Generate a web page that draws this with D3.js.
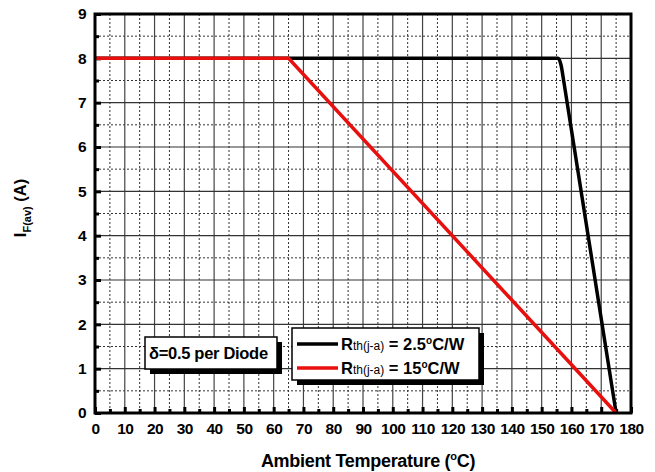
<!DOCTYPE html>
<html><head><meta charset="utf-8">
<script src="https://cdn.jsdelivr.net/npm/d3@7"></script>
<style>body{margin:0;background:#fff}svg{display:block}text{font-family:Arial,"Liberation Sans",sans-serif;font-weight:bold}</style>
</head><body><svg id="c" width="655" height="472"></svg>
<script>
const xTicks = [0,10,20,30,40,50,60,70,80,90,100,110,120,130,140,150,160,170,180];
const yTicks = [0,1,2,3,4,5,6,7,8,9];
const blackT = [0,155.5,156.5,157.5,175];
const blackI = [8,8,7.85,7.45,0];
const redT = [0,65,175];
const redI = [8,8,0];

const svg = d3.select("#c");
const L=95,R=631,T=14,B=413;
const x = d3.scaleLinear().domain([0,180]).range([L,R]);
const y = d3.scaleLinear().domain([0,9]).range([B,T]);
const g = svg.append("g");

// grid
const minorX = d3.range(5,180,10), minorY = d3.range(0.5,9,1);
g.selectAll(".gxm").data(minorX).join("line").attr("x1",d=>x(d)).attr("x2",d=>x(d)).attr("y1",T).attr("y2",B)
 .attr("stroke","#333").attr("stroke-width",1).attr("stroke-dasharray","2,2");
g.selectAll(".gym").data(minorY).join("line").attr("y1",d=>y(d)).attr("y2",d=>y(d)).attr("x1",L).attr("x2",R)
 .attr("stroke","#333").attr("stroke-width",1).attr("stroke-dasharray","2,2");
g.selectAll(".gx").data(xTicks.slice(1,-1)).join("line").attr("x1",d=>x(d)).attr("x2",d=>x(d)).attr("y1",T).attr("y2",B)
 .attr("stroke","#444").attr("stroke-width",1.2);
g.selectAll(".gy").data(yTicks.slice(1,-1)).join("line").attr("y1",d=>y(d)).attr("y2",d=>y(d)).attr("x1",L).attr("x2",R)
 .attr("stroke","#333").attr("stroke-width",1.2);

// axes with inward ticks
const xa = svg.append("g").attr("transform",`translate(0,${B})`)
 .call(d3.axisBottom(x).tickValues(xTicks).tickSize(-6).tickPadding(10).tickFormat(d3.format("d")));
const xm = svg.append("g").attr("transform",`translate(0,${B})`)
 .call(d3.axisBottom(x).tickValues(minorX).tickSize(-4).tickFormat(""));
const ya = svg.append("g").attr("transform",`translate(${L},0)`)
 .call(d3.axisLeft(y).tickValues(yTicks).tickSize(-6).tickPadding(9).tickFormat(d3.format("d")));
const ym = svg.append("g").attr("transform",`translate(${L},0)`)
 .call(d3.axisLeft(y).tickValues(minorY).tickSize(-4).tickFormat(""));
[xa,xm,ya,ym].forEach(a=>{a.select(".domain").remove();a.selectAll("line").attr("stroke","#000").attr("stroke-width",3);
  a.selectAll("text").attr("fill","#000").style("font-size","15.5px").style("font-weight","bold").attr("letter-spacing","-0.5");});

// data lines
const line = d3.line().x(d=>x(d[0])).y(d=>y(d[1]));
svg.append("path").datum(blackT.map((t,i)=>[t,blackI[i]])).attr("d",line.curve(d3.curveMonotoneX))
 .attr("fill","none").attr("stroke","#000").attr("stroke-width",3.5);
svg.append("path").datum(redT.map((t,i)=>[t,redI[i]])).attr("d",d3.line().x(d=>x(d[0])).y(d=>y(d[1])))
 .attr("fill","none").attr("stroke","#e8100f").attr("stroke-width",3.5);

// frame
svg.append("rect").attr("x",L).attr("y",T).attr("width",R-L).attr("height",B-T)
 .attr("fill","none").attr("stroke","#000").attr("stroke-width",3);

// axis titles
svg.append("text").attr("x",368).attr("y",467).attr("text-anchor","middle").style("font-size","18px").attr("letter-spacing","-0.3")
 .html('Ambient Temperature (<tspan dy="-7" font-size="11">o</tspan><tspan dy="7">C)</tspan>');
const yl = svg.append("text").attr("transform","translate(26,208) rotate(-90)").attr("text-anchor","middle").style("font-size","16.5px");
yl.append("tspan").text("I");
yl.append("tspan").attr("dy",5).style("font-size","11px").text("F(av)");
yl.append("tspan").attr("dy",-5).text(" (A)");

// legend boxes with shadow
function box(x0,y0,w,h){
  svg.append("rect").attr("x",x0+5).attr("y",y0+5).attr("width",w).attr("height",h).attr("fill","#000");
  svg.append("rect").attr("x",x0).attr("y",y0).attr("width",w).attr("height",h).attr("fill","#fff").attr("stroke","#000").attr("stroke-width",1.5);
}
box(145,337,132,32);
svg.append("text").attr("x",149).attr("y",359).style("font-size","16.5px").attr("letter-spacing","-0.3").text("δ=0.5 per Diode");
box(292,328,187,52);
const legItems=[{c:"#000",v:"2.5",yy:344},{c:"#e8100f",v:"15",yy:368}];
legItems.forEach(it=>{
  svg.append("line").attr("x1",297).attr("x2",338).attr("y1",it.yy).attr("y2",it.yy).attr("stroke",it.c).attr("stroke-width",3.5);
  const t=svg.append("text").attr("x",341).attr("y",it.yy+6).style("font-size","16.5px");
  t.append("tspan").text("R");
  t.append("tspan").style("font-size","12px").style("font-weight","normal").text("th(j-a)");
  t.append("tspan").text(" = "+it.v);
  t.append("tspan").attr("dy",-6).style("font-size","10px").text("o");
  t.append("tspan").attr("dy",6).text("C/W");
});
</script></body></html>
